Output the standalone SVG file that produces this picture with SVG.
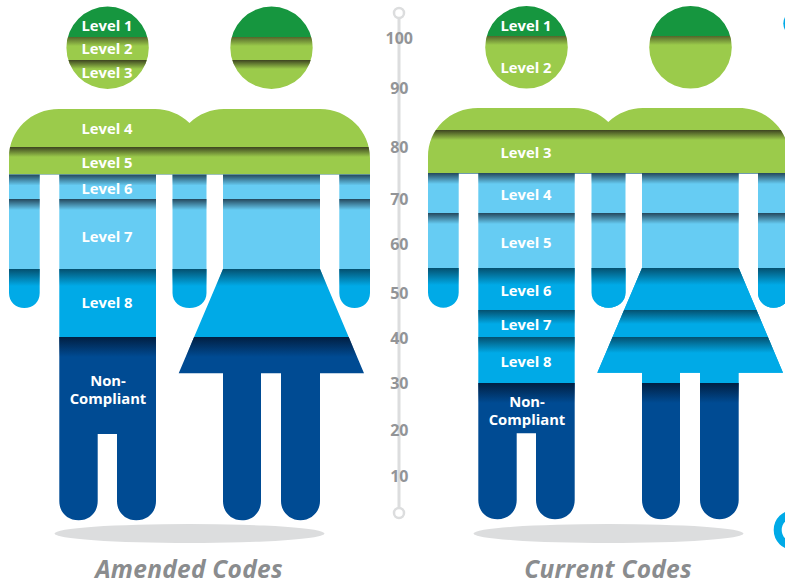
<svg xmlns="http://www.w3.org/2000/svg" width="785" height="585" viewBox="0 0 785 585">
<style>
.lv{font-family:"Open Sans","Noto Sans",sans-serif;font-weight:700;font-size:14.8px;fill:#fff;text-anchor:middle}
.sc{font-family:"Open Sans","Noto Sans",sans-serif;font-weight:700;font-size:16px;fill:#929497;text-anchor:middle}
.ti{font-family:"Open Sans","Noto Sans",sans-serif;font-weight:700;font-style:italic;font-size:24.5px;letter-spacing:.25px;fill:#8a8c8e;text-anchor:middle}
.dg{fill:#16963f}.lg{fill:#9bcb4b}.lb{fill:#66ccf3}.mb{fill:#00aae7}.nv{fill:#004b93}
</style>
<defs>
<linearGradient id="sg" x1="0" y1="0" x2="0" y2="1"><stop offset="0" stop-color="#3d4420" stop-opacity="1"/><stop offset="1" stop-color="#3d4420" stop-opacity="0"/></linearGradient>
<linearGradient id="sb" x1="0" y1="0" x2="0" y2="1"><stop offset="0" stop-color="#24475c" stop-opacity="1"/><stop offset="1" stop-color="#24475c" stop-opacity="0"/></linearGradient>
<linearGradient id="sm" x1="0" y1="0" x2="0" y2="1"><stop offset="0" stop-color="#04506f" stop-opacity="1"/><stop offset="1" stop-color="#04506f" stop-opacity="0"/></linearGradient>
<linearGradient id="sn" x1="0" y1="0" x2="0" y2="1"><stop offset="0" stop-color="#011f42" stop-opacity="1"/><stop offset="1" stop-color="#011f42" stop-opacity="0"/></linearGradient>
<clipPath id="pa">
<circle cx="107.6" cy="47.8" r="41.2"/>
<circle cx="271.5" cy="47.8" r="41.2"/>
<path d="M9 174.5V158C9 130 31 109 59 109H155C168 109 180 114 189.5 123C199 114 211 109 224 109H320C348 109 370 131 370 158V174.5Z"/>
<path d="M9 174H39.7V293C39.7 302 33 308 24.3 308C16 308 9 302 9 293Z"/>
<path d="M59.3 174H156V501C156 512 148 520.3 136.3 520.3C125 520.3 117 512 117 501V434H97.7V501C97.7 512 90 520.3 78.7 520.3C67 520.3 59.3 512 59.3 501Z"/>
<path d="M172.5 174H206.5V293C206.5 302 199 308 189.5 308C180 308 172.5 302 172.5 293Z"/>
<path d="M339.3 174H370V293C370 302 363 308 354.6 308C346 308 339.3 302 339.3 293Z"/>
<path d="M223 174H320V269L364 373.3H320V501C320 512 311 520.3 300.5 520.3C290 520.3 281 512 281 501V373.3H261V501C261 512 253 520.3 242 520.3C231 520.3 223 512 223 501V373.3H178.7L223 269Z"/>
</clipPath>
<clipPath id="pc">
<circle cx="526.5" cy="47.3" r="41.3"/>
<circle cx="690.5" cy="47.3" r="41.3"/>
<path d="M428 173.5V157C428 129 450 108 478 108H574C587 108 599 113 608.3 122C618 113 630 108 643 108H739C767 108 789 130 789 157V173.5Z"/>
<path d="M428 173H458.7V292.5C458.7 301.5 452 307.7 443.3 307.7C435 307.7 428 301.5 428 292.5Z"/>
<path d="M478.3 173H574.7V500C574.7 511 567 519.3 555 519.3C544 519.3 536 511 536 500V433.3H516.7V500C516.7 511 509 519.3 497.6 519.3C486 519.3 478.3 511 478.3 500Z"/>
<path d="M591.5 173H625.5V292.5C625.5 301.5 618 307.7 608.5 307.7C599 307.7 591.5 301.5 591.5 292.5Z"/>
<path d="M758 173H790V292.5C790 301.5 782 307.7 773.6 307.7C765 307.7 758 301.5 758 292.5Z"/>
<path d="M642 173H738.7V268L783 372.7H738.7V500C738.7 511 730 519.3 719.5 519.3C709 519.3 700 511 700 500V372.7H680V500C680 511 672 519.3 661 519.3C650 519.3 642 511 642 500V372.7H597.3L642 268Z"/>
</clipPath>
</defs>

<g id="scale">
<line x1="399" y1="18" x2="399" y2="508" stroke="#dcddde" stroke-width="3"/>
<circle cx="399" cy="13" r="5" fill="#fff" stroke="#dcddde" stroke-width="2.5"/>
<circle cx="399" cy="513" r="5" fill="#fff" stroke="#dcddde" stroke-width="2.5"/>
<text class="sc" x="399.3" y="43.5">100</text>
<text class="sc" x="399.3" y="93.5">90</text>
<text class="sc" x="399.3" y="152.5">80</text>
<text class="sc" x="399.3" y="205">70</text>
<text class="sc" x="399.3" y="249.5">60</text>
<text class="sc" x="399.3" y="299">50</text>
<text class="sc" x="399.3" y="344">40</text>
<text class="sc" x="399.3" y="388.5">30</text>
<text class="sc" x="399.3" y="436">20</text>
<text class="sc" x="399.3" y="482">10</text>
</g>

<g id="amended">
<ellipse cx="189.5" cy="533.5" rx="135" ry="9.5" fill="#dcddde"/>
<g clip-path="url(#pa)">
<rect class="dg" x="0" y="0" width="395" height="37"/>
<rect class="lg" x="0" y="37" width="395" height="137.5"/>
<rect class="lb" x="0" y="174.5" width="395" height="94.5"/>
<rect class="mb" x="0" y="269" width="395" height="68"/>
<rect class="nv" x="0" y="337" width="395" height="190"/>
<rect fill="url(#sg)" x="0" y="37" width="395" height="9" opacity=".75"/>
<rect fill="url(#sg)" x="0" y="60" width="395" height="9"/>
<rect fill="url(#sg)" x="0" y="147" width="395" height="10"/>
<rect fill="url(#sb)" x="0" y="174.5" width="395" height="11"/>
<rect fill="url(#sb)" x="0" y="199" width="395" height="11"/>
<rect fill="url(#sm)" x="0" y="269" width="395" height="17"/>
<rect fill="url(#sn)" x="0" y="337" width="395" height="20"/>
</g>
<text class="lv" x="107" y="31">Level 1</text>
<text class="lv" x="107" y="54">Level 2</text>
<text class="lv" x="107" y="78">Level 3</text>
<text class="lv" x="107" y="134">Level 4</text>
<text class="lv" x="107" y="168">Level 5</text>
<text class="lv" x="107" y="194">Level 6</text>
<text class="lv" x="107" y="242">Level 7</text>
<text class="lv" x="107" y="308">Level 8</text>
<text class="lv"><tspan x="108" y="386">Non-</tspan><tspan x="108" y="404">Compliant</tspan></text>
<text class="ti" x="189" y="577.5">Amended Codes</text>
</g>

<g id="current">
<ellipse cx="608.5" cy="533.5" rx="135" ry="9.5" fill="#dcddde"/>
<g clip-path="url(#pc)">
<rect class="dg" x="420" y="0" width="365" height="36"/>
<rect class="lg" x="420" y="36" width="365" height="137"/>
<rect class="lb" x="420" y="173" width="365" height="95"/>
<rect class="mb" x="420" y="268" width="365" height="115"/>
<rect class="nv" x="420" y="383" width="365" height="140"/>
<rect class="mb" x="597" y="268" width="188" height="105"/>
<rect fill="url(#sg)" x="420" y="36" width="365" height="9" opacity=".75"/>
<rect fill="url(#sg)" x="420" y="130" width="365" height="10"/>
<rect fill="url(#sb)" x="420" y="173" width="365" height="11"/>
<rect fill="url(#sb)" x="420" y="213" width="365" height="11"/>
<rect fill="url(#sm)" x="420" y="268" width="365" height="17"/>
<rect fill="url(#sm)" x="420" y="310" width="365" height="14"/>
<rect fill="url(#sm)" x="420" y="337" width="365" height="16"/>
<rect fill="url(#sn)" x="420" y="383" width="365" height="20"/>
</g>
<text class="lv" x="526" y="31">Level 1</text>
<text class="lv" x="526" y="73">Level 2</text>
<text class="lv" x="526" y="158">Level 3</text>
<text class="lv" x="526" y="200">Level 4</text>
<text class="lv" x="526" y="248">Level 5</text>
<text class="lv" x="526" y="296">Level 6</text>
<text class="lv" x="526" y="330">Level 7</text>
<text class="lv" x="526" y="367">Level 8</text>
<text class="lv"><tspan x="527" y="407">Non-</tspan><tspan x="527" y="425">Compliant</tspan></text>
<text class="ti" x="608" y="577.5">Current Codes</text>
</g>

<g id="edge">
<circle cx="796.3" cy="23.5" r="13" fill="#00aae7"/>
<circle cx="793.7" cy="530" r="16" fill="none" stroke="#00aae7" stroke-width="8"/>
</g>
</svg>
